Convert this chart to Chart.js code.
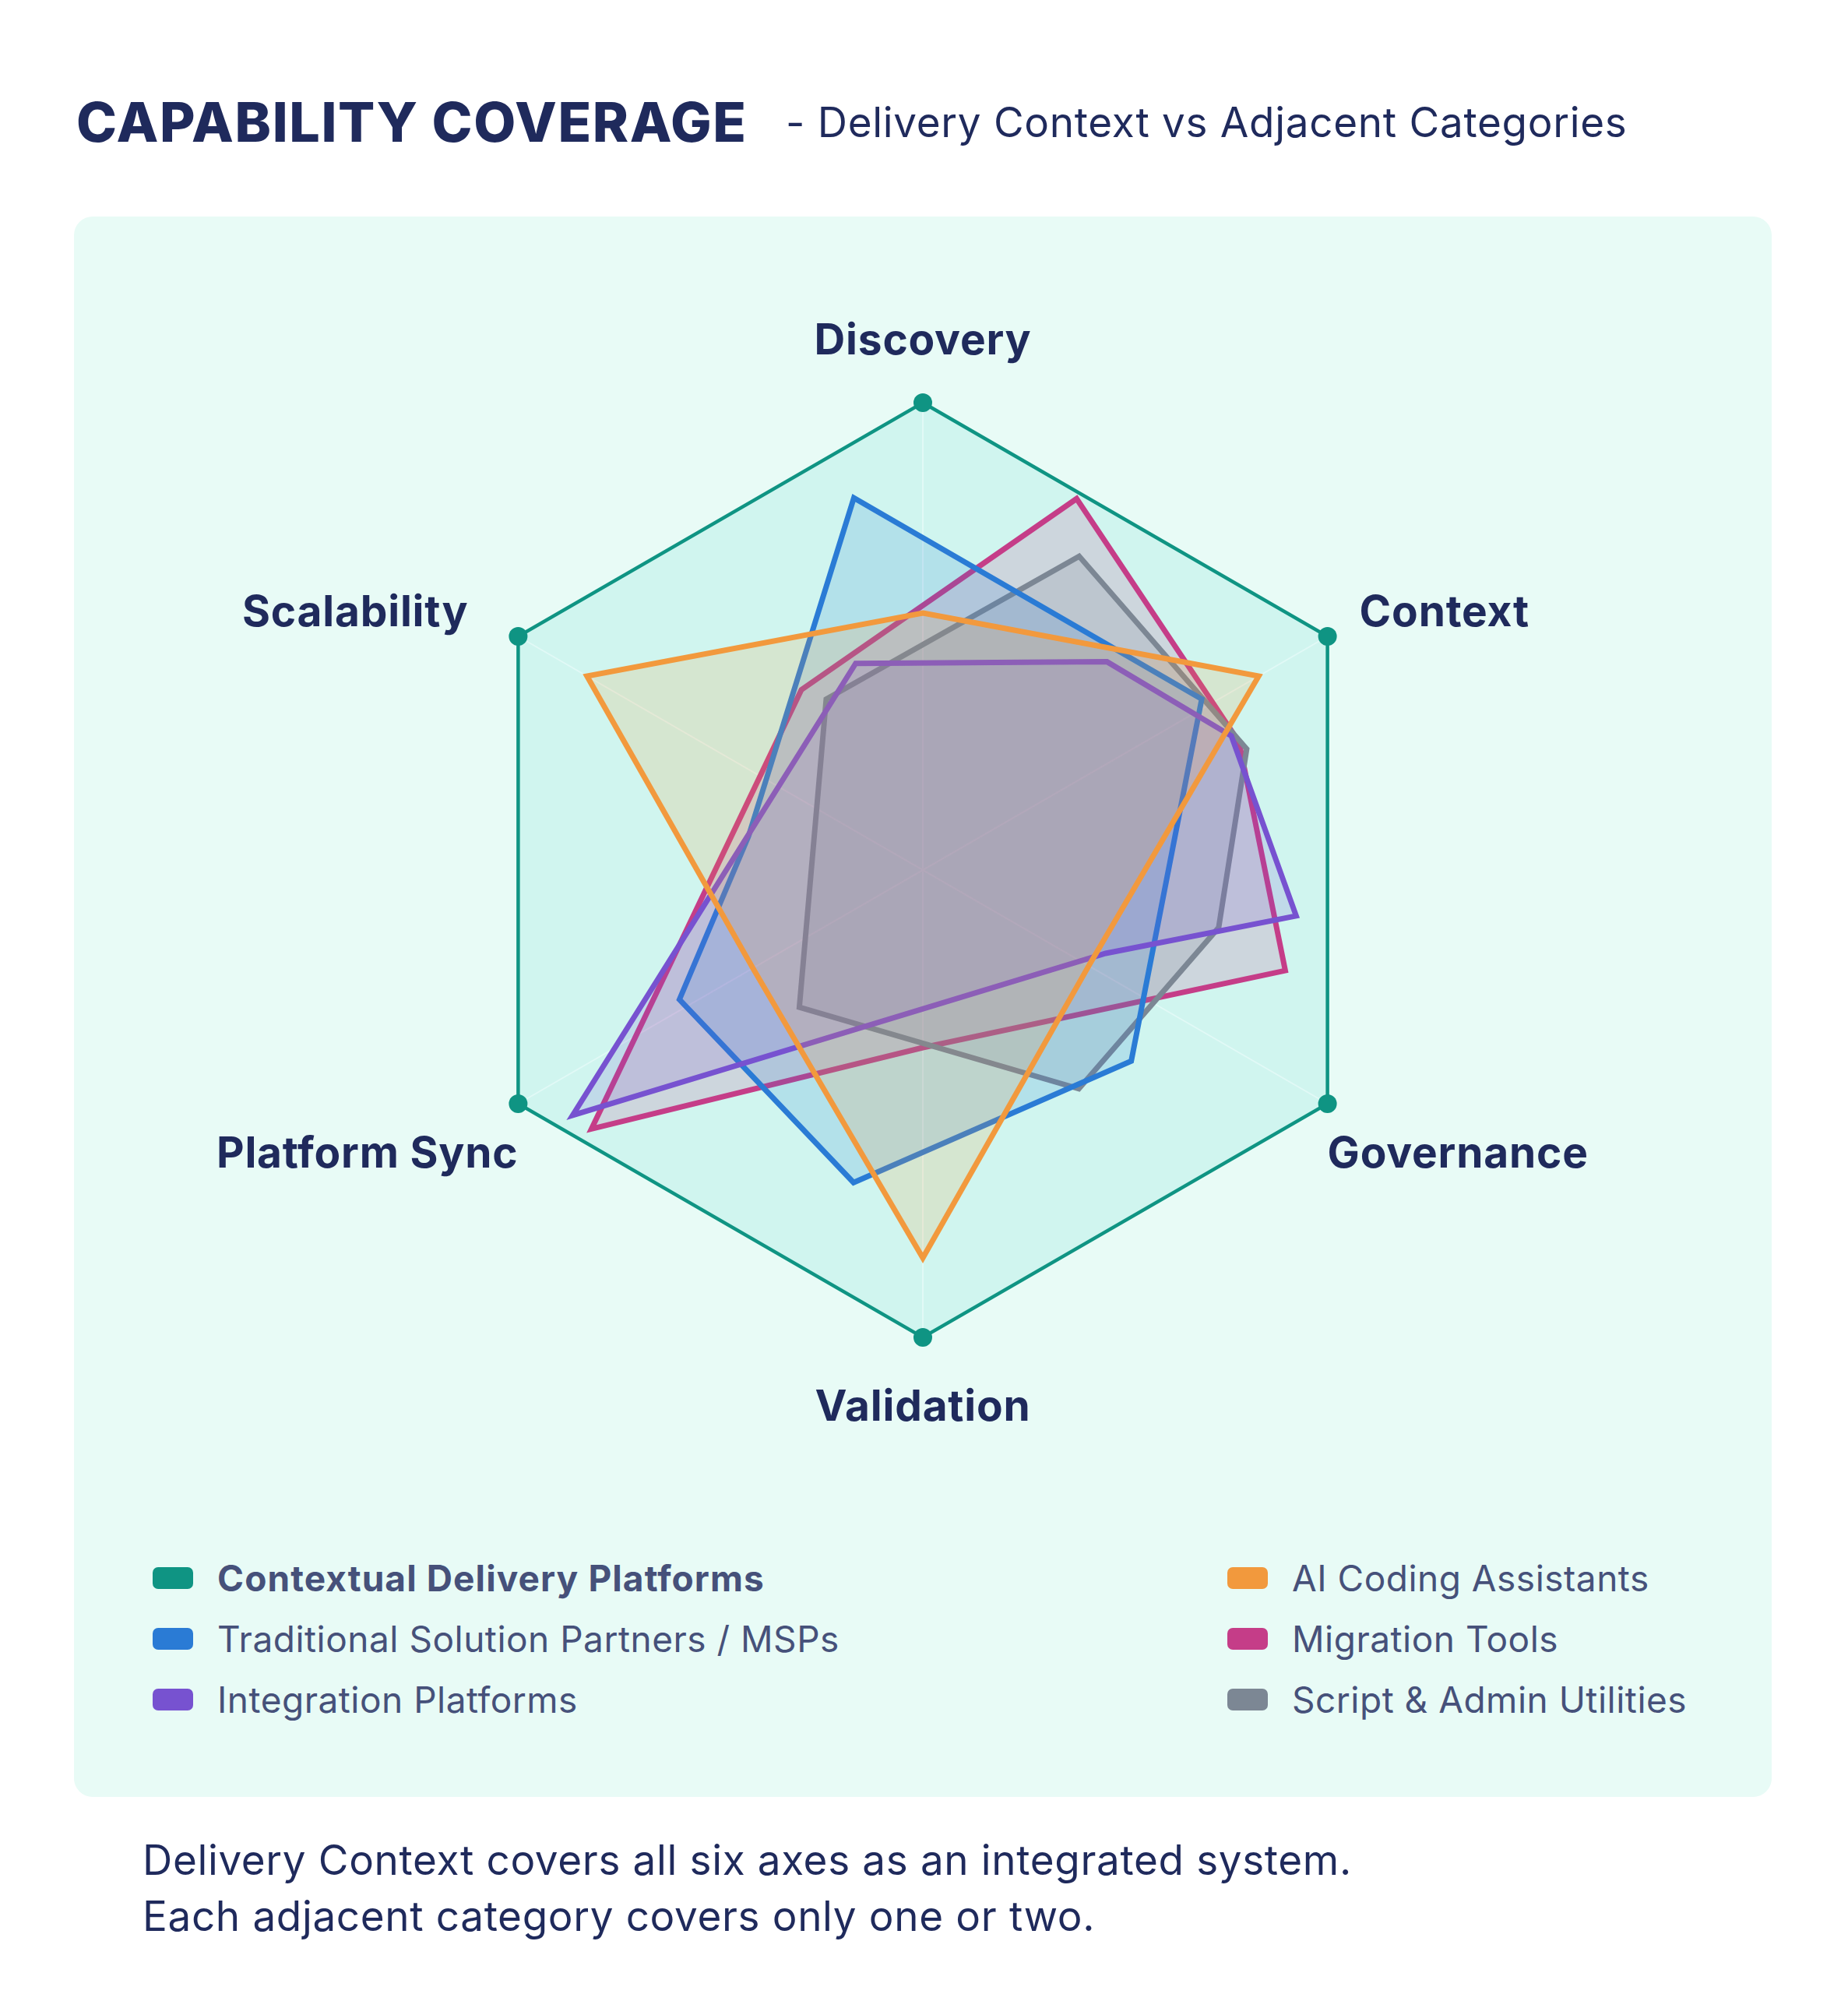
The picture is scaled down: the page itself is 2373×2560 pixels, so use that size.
<!DOCTYPE html>
<html>
<head>
<meta charset="utf-8">
<title>Capability Coverage</title>
<script src="https://cdn.jsdelivr.net/npm/chart.js@4.4.1/dist/chart.umd.min.js"></script>
<style>
  body { margin: 0; background: #ffffff; font-family: Inter, "Noto Sans", sans-serif; color: #1f2a5c; }
  .page { position: relative; width: 2373px; height: 2560px; }
  .title { position: absolute; left: 98px; top: 122px; font-size: 70px; font-weight: 800; letter-spacing: 1.6px; line-height: 1; white-space: nowrap; }
  .subtitle { position: absolute; left: 1009px; top: 131px; font-size: 53px; font-weight: 400; letter-spacing: 0.7px; line-height: 1; white-space: nowrap; }
  .panel { position: absolute; left: 95px; top: 278px; width: 2180px; height: 2029px; background: #e8fbf6; border-radius: 24px; }
  #radar { position: absolute; left: 0; top: 0; }
  .legend-item { position: absolute; display: flex; align-items: center; height: 46px; font-size: 46px; line-height: 1; letter-spacing: 0.5px; color: #46517a; white-space: nowrap; }
  .legend-item .box { width: 52px; height: 28px; border-radius: 7px; margin-right: 31px; }
  .legend-item.main { font-weight: 700; letter-spacing: 1.1px; }
  .note { position: absolute; left: 183px; top: 2352px; font-size: 53px; line-height: 72px; letter-spacing: 0.65px; color: #1f2a5c; }
</style>
</head>
<body>
<div class="page">
  <div class="title">CAPABILITY COVERAGE</div>
  <div class="subtitle">- Delivery Context vs Adjacent Categories</div>
  <div class="panel" id="panel">
    <canvas id="radar" width="2180" height="1650"></canvas>
  </div>
  <div class="note">Delivery Context covers all six axes as an integrated system.<br>Each adjacent category covers only one or two.</div>
</div>
<script>
// axes of the radar, angle clockwise from the top
const axes = ['Discovery', 'Context', 'Governance', 'Validation', 'Platform Sync', 'Scalability'];
const axisAngles = [0, 60, 120, 180, 240, 300];

const seriesNames = [
  'Contextual Delivery Platforms',
  'Traditional Solution Partners / MSPs',
  'Integration Platforms',
  'AI Coding Assistants',
  'Migration Tools',
  'Script & Admin Utilities'
];

// corners of each shape: angle (deg) and score (0-100)
const contextualAngles = [0, 60, 120, 180, 240, 300];
const contextualScores = [100, 100, 100, 100, 100, 100];
const traditionalAngles = [349.5, 58.5, 132.5, 192.5, 242, 281];
const traditionalScores = [81, 70, 60.5, 68.5, 59, 38];
const integrationAngles = [342, 41.5, 66.5, 97, 114.5, 235];
const integrationScores = [46.5, 59.5, 72, 80.5, 43, 91.5];
const aiCodingAngles = [0, 60, 120, 180, 240, 300];
const aiCodingScores = [55, 83, 41, 83, 42, 83];
const migrationAngles = [22.5, 68, 105.5, 180, 232, 326];
const migrationScores = [86, 73, 80.5, 38, 90, 46.5];
const scriptAngles = [26.5, 69.5, 101, 144.5, 222, 330.5];
const scriptScores = [75, 74, 64.5, 57.5, 39.5, 42];

const STEPS = 720; // half degree slots round the circle

function toSlots(angles, scores) {
  const slots = new Array(STEPS).fill(null);
  angles.forEach((a, i) => {
    slots[Math.round(a * STEPS / 360) % STEPS] = scores[i];
  });
  return slots;
}

const slotLabels = new Array(STEPS).fill('');
axisAngles.forEach((a, i) => { slotLabels[a * STEPS / 360] = axes[i]; });

function series(i, angles, scores, color, fill, order) {
  return {
    label: seriesNames[i],
    data: toSlots(angles, scores),
    borderColor: color,
    backgroundColor: fill,
    borderWidth: 7,
    borderJoinStyle: 'miter',
    fill: 'shape',
    spanGaps: true,
    pointRadius: 0,
    clip: false,
    order: order
  };
}

const datasets = [
  Object.assign(series(0, contextualAngles, contextualScores, '#0f9483', 'rgba(45,212,191,0.13)', 6), {
    borderWidth: 4.5,
    pointRadius: 12,
    pointBackgroundColor: '#0f9483',
    pointBorderWidth: 0
  }),
  series(1, traditionalAngles, traditionalScores, '#2a7bd5', 'rgba(42,123,213,0.17)', 3),
  series(2, integrationAngles, integrationScores, '#7752d0', 'rgba(119,82,208,0.17)', 2),
  series(3, aiCodingAngles, aiCodingScores, '#f2993d', 'rgba(242,153,61,0.17)', 1),
  series(4, migrationAngles, migrationScores, '#c53d88', 'rgba(197,61,136,0.17)', 5),
  series(5, scriptAngles, scriptScores, '#7c8794', 'rgba(124,135,148,0.2)', 4)
];

// where each axis name sits next to its outer corner
const labelOffsets = [
  {dx: 0, dy: -79, align: 'center'},
  {dx: 41, dy: -30, align: 'left'},
  {dx: 0, dy: 65, align: 'left'},
  {dx: 0, dy: 90, align: 'center'},
  {dx: 0, dy: 65, align: 'right'},
  {dx: -64, dy: -30, align: 'right'}
];

const axisLabels = {
  id: 'axisLabels',
  afterDatasetsDraw(chart) {
    const scale = chart.scales.r;
    const ctx = chart.ctx;
    ctx.save();
    ctx.font = '700 55px Inter';
    ctx.letterSpacing = '0.8px';
    ctx.fillStyle = '#1f2a5c';
    ctx.textBaseline = 'middle';
    axes.forEach((name, i) => {
      const p = scale.getPointPositionForValue(axisAngles[i] * STEPS / 360, scale.max);
      const o = labelOffsets[i];
      ctx.textAlign = o.align;
      ctx.fillText(name, p.x + o.dx, p.y + o.dy);
    });
    ctx.restore();
  }
};

const radarChart = new Chart(document.getElementById('radar'), {
  type: 'radar',
  data: { labels: slotLabels, datasets: datasets },
  options: {
    responsive: false,
    animation: false,
    events: [],
    layout: { padding: { left: 490, right: 490, top: 239, bottom: 211 } },
    plugins: {
      legend: { display: false },
      tooltip: { enabled: false },
      title: { display: false }
    },
    scales: {
      r: {
        min: 0,
        max: 100,
        ticks: { display: false },
        grid: { display: false },
        pointLabels: { display: false },
        angleLines: {
          display: true,
          color: 'rgba(255,255,255,0.85)',
          lineWidth: (c) => (slotLabels[c.index] ? 2 : 0)
        }
      }
    }
  },
  plugins: [axisLabels]
});

// legend: two columns of three
const panel = document.getElementById('panel');
const legendLeft = [101, 1481];
const legendRows = [1748, 1826, 1904];
datasets.forEach((ds, i) => {
  const item = document.createElement('div');
  item.className = 'legend-item' + (i === 0 ? ' main' : '');
  item.style.left = legendLeft[Math.floor(i / 3)] + 'px';
  item.style.top = (legendRows[i % 3] - 23) + 'px';
  const box = document.createElement('span');
  box.className = 'box';
  box.style.background = ds.borderColor;
  item.appendChild(box);
  item.appendChild(document.createTextNode(ds.label));
  panel.appendChild(item);
});
</script>
</body>
</html>
